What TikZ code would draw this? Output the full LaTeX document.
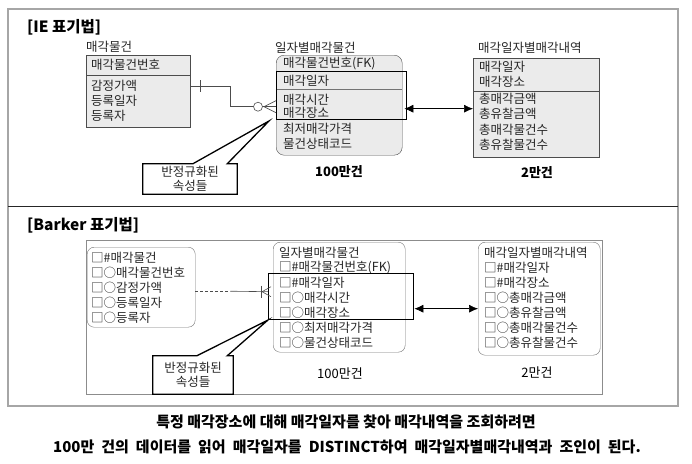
\documentclass[tikz,border=0pt]{standalone}
\usepackage{fontspec}
\setmainfont{Noto Sans CJK KR}
\usetikzlibrary{arrows.meta,calc,positioning}
\tikzset{ent/.style={draw=black!70,fill=black!8,inner sep=0,anchor=north west}}
\tikzset{bent/.style={draw=black!55,rounded corners=7pt,inner sep=0,anchor=north west}}
\tikzset{attr/.style={inner sep=0,anchor=west,text=black!85,font=\fontsize{12.5}{15}\selectfont}}
\tikzset{ename/.style={inner sep=0,anchor=west,text=black!85,font=\fontsize{12.5}{15}\selectfont}}
\tikzset{hot/.style={draw,line width=1.4pt,inner sep=0,anchor=north west}}
\tikzset{note/.style={line width=1.3pt}}
\tikzset{notetext/.style={inner sep=0,align=center,text=black!85,font=\fontsize{12.5}{14}\selectfont}}
\tikzset{rel/.style={draw=black!70,line width=0.6pt}}
\tikzset{dbl/.style={{Latex[length=9pt,width=8pt]}-{Latex[length=9pt,width=8pt]},line width=0.6pt}}
\tikzset{title/.style={inner sep=0,anchor=west,font=\fontsize{15.5}{18}\selectfont\bfseries}}
\tikzset{count/.style={inner sep=0,font=\fontsize{13}{15}\selectfont}}
\tikzset{caption/.style={inner sep=0,font=\fontsize{15}{18}\selectfont\bfseries}}

\begin{document}
\begin{tikzpicture}[x=1pt,y=-1pt]
    \useasboundingbox (0,0) rectangle (692,463);
    \draw[black!35,line width=1.5pt] (8,9) rectangle (678,406);
    \draw[black!85,line width=0.9pt] (8,206) -- (678,206);

    % IE notation
    \node[title] (ie-title) at (27,27) {[IE 표기법]};

    \node[ename] (ie1-name) at (86,47) {매각물건};
    \node[ent,minimum width=104pt,minimum height=72pt] (ie1) at (86,55) {};
    \draw[black!70] ([yshift=-20pt]ie1.north west) -- ([yshift=-20pt]ie1.north east);
    \node[attr] (ie1-0) at (91,65) {매각물건번호};
    \foreach \t [count=\i] in {감정가액,등록일자,등록자}
        \node[attr] (ie1-\i) at (91,71+15*\i) {\t};

    \node[ename] (ie2-name) at (275,48) {일자별매각물건};
    \node[ent,rounded corners=8pt,minimum width=126pt,minimum height=100pt] (ie2) at (276,55) {};
    \draw[black!55] ([yshift=-34pt]ie2.north west) -- ([yshift=-34pt]ie2.north east);
    \node[attr] (ie2-0) at (283,64) {매각물건번호(FK)};
    \node[attr] (ie2-1) at (283,81) {매각일자};
    \node[attr] (ie2-2) at (283,100) {매각시간};
    \node[attr] (ie2-3) at (283,113) {매각장소};
    \node[attr] (ie2-4) at (283,129) {최저매각가격};
    \node[attr] (ie2-5) at (283,144) {물건상태코드};
    \node[hot,minimum width=130pt,minimum height=48pt] (ie2hot) at (276,71) {};

    \node[ename] (ie3-name) at (478,48) {매각일자별매각내역};
    \node[ent,minimum width=126pt,minimum height=99pt] (ie3) at (473,58) {};
    \draw[black!70] ([yshift=-33pt]ie3.north west) -- ([yshift=-33pt]ie3.north east);
    \node[attr] (ie3-1) at (479,67) {매각일자};
    \node[attr] (ie3-2) at (479,82) {매각장소};
    \foreach \t [count=\i from 3] in {총매각금액,총유찰금액,총매각물건수,총유찰물건수}
        \node[attr] (ie3-\i) at (479,52+15.5*\i) {\t};

    \node[count,font=\fontsize{13}{15}\selectfont\bfseries] (ie2-count) at (339,172) {100만건};
    \node[count,font=\fontsize{13}{15}\selectfont\bfseries] (ie3-count) at (537,173) {2만건};

    % one to many, optional
    \coordinate (ie-one) at ([yshift=5pt]ie1.east);
    \coordinate (ie-many) at ([yshift=-11pt]ie2hot.west);
    \draw[rel] (ie-one) -- ++(40,0) |- (ie-many);
    \draw[rel] ([xshift=10pt]ie-one) ++(0,-6) -- ++(0,12);
    \draw[rel,fill=white] ([xshift=-18pt]ie-many) circle[radius=4.5pt];
    \draw[rel] (ie-many) ++(-12,0) -- ++(12,-6) (ie-many) ++(-12,0) -- ++(12,6);

    \draw[dbl] ([xshift=-3pt,yshift=-13pt]ie2hot.east) -- ([yshift=-13pt]ie2hot.east -| ie3.west);

    \node[notetext,minimum width=94pt,minimum height=30pt] (ie-note) at (190,179) {반정규화된\\속성들};
    \coordinate (ie-tip) at (269,121);
    \draw[note] (ie-note.north west) -- ([xshift=50pt]ie-note.north west) -- (ie-tip)
        -- ([xshift=-10pt]ie-note.north east) -- (ie-note.north east)
        -- (ie-note.south east) -- (ie-note.south west) -- cycle;

    % Barker notation
    \node[title] (b-title) at (27,225) {[Barker 표기법]};
    \draw[black!45] (86,240) rectangle (602,394);

    \node[bent,minimum width=108pt,minimum height=80pt] (b1) at (87,247) {};
    \foreach \t [count=\i] in {□\#매각물건,□○매각물건번호,□○감정가액,□○등록일자,□○등록자}
        \node[attr] (b1-\i) at (91,243+15*\i) {\t};

    \node[bent,minimum width=132pt,minimum height=110pt] (b2) at (273,242) {};
    \foreach \t [count=\i] in {일자별매각물건,□\#매각물건번호(FK),□\#매각일자,□○매각시간,□○매각장소,□○최저매각가격,□○물건상태코드}
        \node[attr] (b2-\i) at (279,238+15*\i) {\t};
    \node[hot,minimum width=145pt,minimum height=46pt] (b2hot) at (268,273) {};

    \node[bent,minimum width=122pt,minimum height=113pt] (b3) at (478,242) {};
    \foreach \t [count=\i] in {매각일자별매각내역,□\#매각일자,□\#매각장소,□○총매각금액,□○총유찰금액,□○총매각물건수,□○총유찰물건수}
        \node[attr] (b3-\i) at (484,238+15*\i) {\t};

    \node[count] (b2-count) at (340,373) {100만건};
    \node[count] (b3-count) at (537,372) {2만건};

    \coordinate (b-one) at ([yshift=-4pt]b1.east);
    \coordinate (b-many) at ([yshift=5pt]b2hot.west);
    \draw[rel,dash pattern=on 3pt off 2pt] (b-one) -- ++(35,0) coordinate (b-mid);
    \draw[rel] (b-mid) -- (b-many);
    \draw[rel] ([xshift=-7pt]b-many) ++(0,-6) -- ++(0,12);
    \draw[rel] (b-many) ++(-6,0) -- ++(9,-5) (b-many) ++(-6,0) -- ++(9,5);

    \draw[dbl] ([yshift=-12pt]b2hot.east) -- ([yshift=-12pt]b2hot.east -| b3.west);

    \node[notetext,minimum width=80pt,minimum height=38pt] (b-note) at (193,375) {반정규화된\\속성들};
    \coordinate (b-tip) at (268,320);
    \draw[note] (b-note.north west) -- ([xshift=44pt]b-note.north west) -- (b-tip)
        -- ([xshift=-6pt]b-note.north east) -- (b-note.north east)
        -- (b-note.south east) -- (b-note.south west) -- cycle;

    % caption
    \node[caption] (cap1) at (346,422) {특정 매각장소에 대해 매각일자를 찾아 매각내역을 조회하려면};
    \node[caption] (cap2) at (347,447) {\spaceskip=7pt plus 1pt 100만 건의 데이터를 읽어 매각일자를 DISTINCT하여 매각일자별매각내역과 조인이 된다.};
\end{tikzpicture}
\end{document}
